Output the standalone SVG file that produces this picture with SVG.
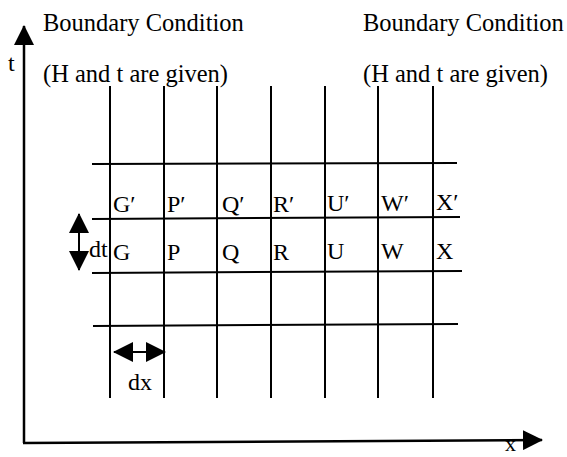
<svg xmlns="http://www.w3.org/2000/svg" width="567" height="457" viewBox="0 0 567 457">
<style>
text{font-family:"Liberation Serif","Times New Roman",serif;fill:#000}
.big{font-size:24.5px}
.lbl{font-size:24px}
.sm{font-size:22px}
.ln{stroke:#000;stroke-width:2;fill:none}
.ax{stroke:#000;stroke-width:2.5;fill:none}
</style>
<defs>
<marker id="ah" viewBox="0 0 20 20" markerWidth="20" markerHeight="20" refX="19" refY="10" orient="auto-start-reverse" markerUnits="userSpaceOnUse">
<path d="M0,0 L20,10 L0,20 z" fill="#000"/>
</marker>
</defs>
<rect width="567" height="457" fill="#fff"/>
<g id="axes">
<line class="ax" x1="24" y1="443" x2="24" y2="26" marker-end="url(#ah)"/>
<line class="ax" x1="23" y1="443" x2="542" y2="440" marker-end="url(#ah)"/>
<text class="lbl" x="8" y="71">t</text>
<text class="sm" x="505" y="451">x</text>
</g>
<g id="boundary-left">
<text class="big" x="43" y="31">Boundary Condition</text>
<text class="big" x="43" y="82">(H and t are given)</text>
</g>
<g id="boundary-right">
<text class="big" x="363" y="31">Boundary Condition</text>
<text class="big" x="363" y="82">(H and t are given)</text>
</g>
<g id="grid">
<line class="ln" x1="110" y1="86" x2="110" y2="398"/>
<line class="ln" x1="164" y1="86" x2="164" y2="398"/>
<line class="ln" x1="217" y1="86" x2="217" y2="398"/>
<line class="ln" x1="271" y1="86" x2="271" y2="398"/>
<line class="ln" x1="325" y1="86" x2="325" y2="398"/>
<line class="ln" x1="378" y1="86" x2="378" y2="398"/>
<line class="ln" x1="433" y1="86" x2="433" y2="398"/>
<line class="ln" x1="92" y1="164" x2="457" y2="163"/>
<line class="ln" x1="92" y1="219" x2="460" y2="217"/>
<line class="ln" x1="92" y1="273" x2="462" y2="271"/>
<line class="ln" x1="93" y1="326" x2="458" y2="324"/>
</g>
<g id="nodes-primed">
<text class="lbl" x="113" y="212">G′</text>
<text class="lbl" x="167" y="212">P′</text>
<text class="lbl" x="222" y="212">Q′</text>
<text class="lbl" x="273" y="212">R′</text>
<text class="lbl" x="327" y="211">U′</text>
<text class="lbl" x="381" y="211">W′</text>
<text class="lbl" x="436" y="210">X′</text>
</g>
<g id="nodes">
<text class="lbl" x="113" y="260">G</text>
<text class="lbl" x="167" y="260">P</text>
<text class="lbl" x="222" y="260">Q</text>
<text class="lbl" x="273" y="260">R</text>
<text class="lbl" x="327" y="259">U</text>
<text class="lbl" x="381" y="259">W</text>
<text class="lbl" x="436" y="259">X</text>
</g>
<g id="connectors">
<line class="ln" x1="79" y1="214" x2="79" y2="270" marker-start="url(#ah)" marker-end="url(#ah)"/>
<text class="lbl" x="89" y="257">dt</text>
<line class="ln" x1="114" y1="352" x2="165" y2="352" marker-start="url(#ah)" marker-end="url(#ah)"/>
<text class="lbl" x="128" y="390">dx</text>
</g>
</svg>
